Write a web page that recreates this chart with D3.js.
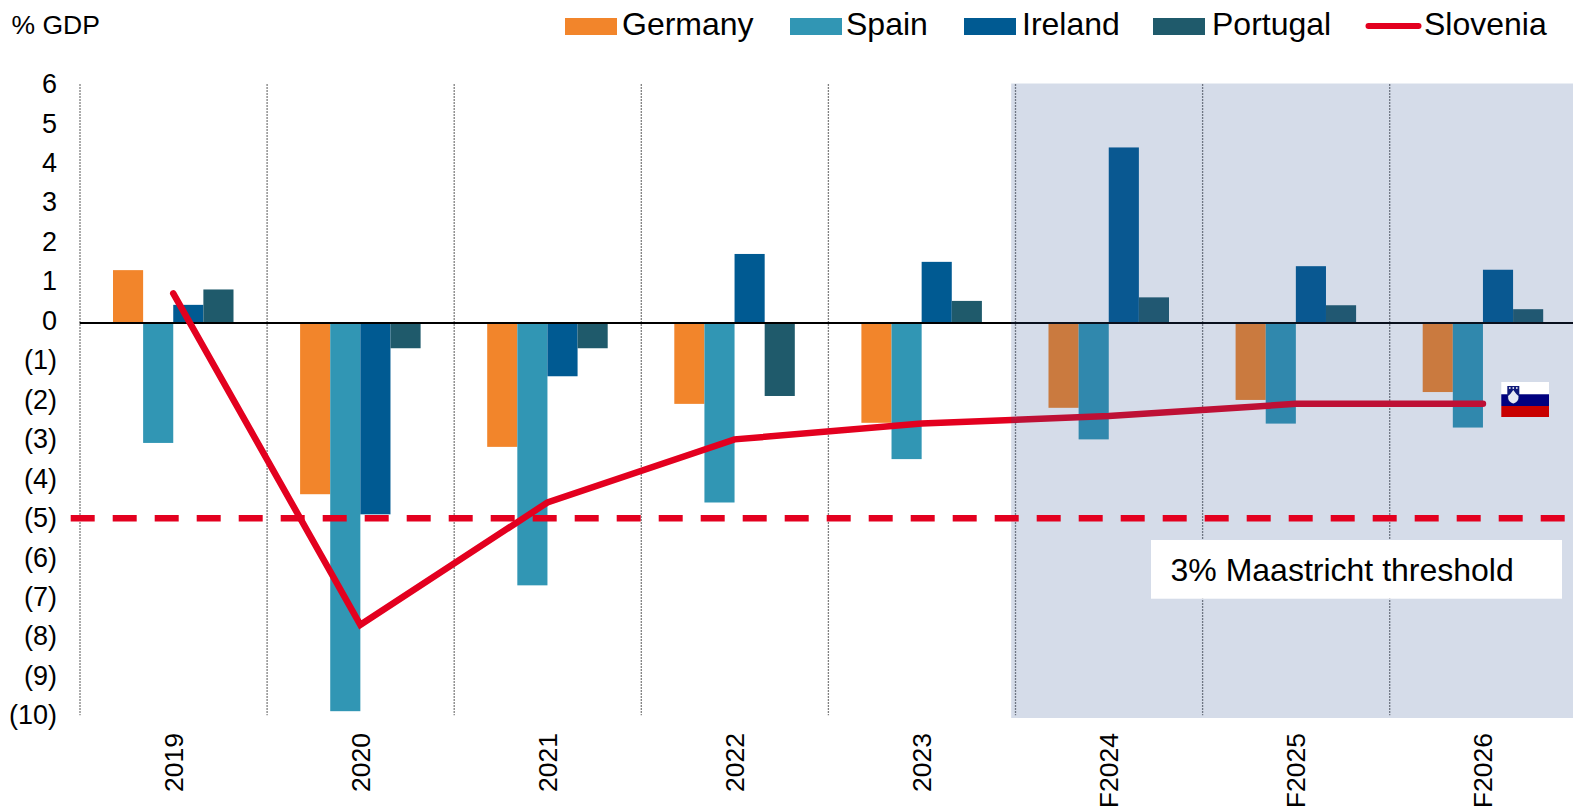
<!DOCTYPE html>
<html>
<head>
<meta charset="utf-8">
<title>General government balance</title>
<script src="https://cdn.jsdelivr.net/npm/d3@7"></script>
<style>
  html, body { margin: 0; padding: 0; background: #fff; overflow: hidden; }
  text { font-family: "Liberation Sans", Arial, sans-serif; fill: #000; }
</style>
</head>
<body>
<div id="chart"></div>
<script>
// Data
var years = ["2019", "2020", "2021", "2022", "2023", "F2024", "F2025", "F2026"];
var germany = [1.34, -4.34, -3.14, -2.05, -2.53, -2.15, -1.95, -1.75];
var spain = [-3.04, -9.84, -6.65, -4.55, -3.45, -2.95, -2.55, -2.65];
var ireland = [0.46, -4.85, -1.35, 1.75, 1.55, 4.45, 1.44, 1.35];
var portugal = [0.85, -0.64, -0.64, -1.85, 0.56, 0.65, 0.45, 0.35];
var slovenia = [0.75, -7.65, -4.55, -2.95, -2.55, -2.36, -2.05, -2.05];
var threshold = -4.95;
var forecastYears = ["F2024", "F2025", "F2026"];
var yTicks = [6, 5, 4, 3, 2, 1, 0, -1, -2, -3, -4, -5, -6, -7, -8, -9, -10];

var barNames = ["Germany", "Spain", "Ireland", "Portugal"];
var barValues = [germany, spain, ireland, portugal];
var barColors = ["#F2852B", "#3196B4", "#005A92", "#1F5A6B"];
var lineColor = "#E3001F";

var width = 1573,
    height = 811;

var svg = d3.select("#chart").append("svg")
    .attr("width", width)
    .attr("height", height)
    .style("display", "block");

// Scales
var x = d3.scaleBand()
    .domain(years)
    .range([79.7, 1576.5]);

var xBar = d3.scaleBand()
    .domain(barNames)
    .range([33.3, 153.8]);

var y = d3.scaleLinear()
    .domain([6, -10])
    .range([86.3, 717.5]);

var labelShift = -2.3;   // tick labels and dotted lines sit slightly above the zero line
var gridTop = y(6) + labelShift;
var gridBottom = y(-10) + labelShift;

// Bars
barNames.forEach(function(name, s) {
  svg.append("g")
    .selectAll("rect")
    .data(barValues[s])
    .enter().append("rect")
    .attr("x", function(d, i) { return x(years[i]) + xBar(name); })
    .attr("width", xBar.bandwidth())
    .attr("y", function(d) { return y(Math.max(0, d)); })
    .attr("height", function(d) { return Math.abs(y(d) - y(0)); })
    .attr("fill", barColors[s]);
});

// Dotted separators between the years
svg.append("g")
  .selectAll("line")
  .data(years)
  .enter().append("line")
  .attr("x1", function(d) { return x(d) + 0.3; })
  .attr("x2", function(d) { return x(d) + 0.3; })
  .attr("y1", gridTop)
  .attr("y2", gridBottom)
  .attr("stroke", "#808080")
  .attr("stroke-width", 1.3)
  .attr("stroke-dasharray", "2 1");

// Zero line
svg.append("line")
  .attr("x1", x(years[0]))
  .attr("x2", width)
  .attr("y1", y(0))
  .attr("y2", y(0))
  .attr("stroke", "#000")
  .attr("stroke-width", 2);

// Slovenia line
var line = d3.line()
    .x(function(d, i) { return x(years[i]) + x.bandwidth() / 2; })
    .y(function(d) { return y(d); });

svg.append("path")
  .datum(slovenia)
  .attr("d", line)
  .attr("fill", "none")
  .attr("stroke", lineColor)
  .attr("stroke-width", 6.5)
  .attr("stroke-linecap", "round")
  .attr("stroke-linejoin", "miter");

// Forecast shading goes over the bars and the line, it mutes them
svg.append("rect")
  .attr("x", x(forecastYears[0]) - 4)
  .attr("y", 83.5)
  .attr("width", width - x(forecastYears[0]) + 4)
  .attr("height", 634.5)
  .attr("fill", "rgb(45,80,145)")
  .attr("fill-opacity", 0.2);

// Maastricht threshold
svg.append("line")
  .attr("x1", 70.7)
  .attr("x2", 1565)
  .attr("y1", y(threshold))
  .attr("y2", y(threshold))
  .attr("stroke", lineColor)
  .attr("stroke-width", 6.5)
  .attr("stroke-dasharray", "24 18");

svg.append("rect")
  .attr("x", 1151)
  .attr("y", 540)
  .attr("width", 411)
  .attr("height", 58.7)
  .attr("fill", "#fff");

svg.append("text")
  .attr("x", 1170.5)
  .attr("y", 581)
  .attr("font-size", 32)
  .text("3% Maastricht threshold");

// Y axis labels, negatives in brackets
var yAxis = d3.axisLeft(y)
    .tickValues(yTicks)
    .tickSize(0)
    .tickPadding(0)
    .tickFormat(function(d) { return d < 0 ? "(" + (-d) + ")" : d; });

var yAxisG = svg.append("g")
    .attr("transform", "translate(57," + labelShift + ")")
    .call(yAxis);
yAxisG.select(".domain").remove();
yAxisG.selectAll("text")
    .attr("font-size", 27)
    .attr("font-family", null)
    .attr("fill", "#000");

// X axis labels, rotated
svg.append("g")
  .selectAll("text")
  .data(years)
  .enter().append("text")
  .attr("transform", function(d) {
    return "translate(" + (x(d) + x.bandwidth() / 2 + 9.5) + ",733) rotate(-90)";
  })
  .attr("text-anchor", "end")
  .attr("font-size", 26.5)
  .text(function(d) { return d; });

// Unit label
svg.append("text")
  .attr("x", 11.5)
  .attr("y", 33.5)
  .attr("font-size", 26.5)
  .text("% GDP");

// Legend
var legendSwatchX = [565, 790, 964, 1153];
var legendTextX = [622, 846, 1022, 1212];

barNames.forEach(function(name, s) {
  svg.append("rect")
    .attr("x", legendSwatchX[s])
    .attr("y", 18)
    .attr("width", 52)
    .attr("height", 17)
    .attr("fill", barColors[s]);
  svg.append("text")
    .attr("x", legendTextX[s])
    .attr("y", 35)
    .attr("font-size", 32)
    .text(name);
});

svg.append("line")
  .attr("x1", 1368.5)
  .attr("x2", 1418.5)
  .attr("y1", 26)
  .attr("y2", 26)
  .attr("stroke", lineColor)
  .attr("stroke-width", 6)
  .attr("stroke-linecap", "round");

svg.append("text")
  .attr("x", 1424)
  .attr("y", 35)
  .attr("font-size", 32)
  .text("Slovenia");

// Slovenian flag at the end of the line
var flag = svg.append("g").attr("transform", "translate(1501.3,382)");
flag.append("rect").attr("width", 47.7).attr("height", 12.3).attr("fill", "#fff");
flag.append("rect").attr("y", 12.3).attr("width", 47.7).attr("height", 11.7).attr("fill", "#00007F");
flag.append("rect").attr("y", 24).attr("width", 47.7).attr("height", 11).attr("fill", "#C80000");
flag.append("path")
  .attr("d", "M6,4 L18,4 L18,16 Q18,20 12,22 Q6,20 6,16 Z")
  .attr("fill", "#101a7a");
flag.append("path")
  .attr("d", "M6.8,14 L9,12 L12,8 L15,12 L17.2,14 L17,17 Q16,20 12,21.5 Q8,20 7,17 Z")
  .attr("fill", "#e6e9f4");
flag.selectAll("circle")
  .data([8.5, 12, 15.5])
  .enter().append("circle")
  .attr("cx", function(d) { return d; })
  .attr("cy", 6)
  .attr("r", 0.9)
  .attr("fill", "#e6e9f4");
</script>
</body>
</html>
